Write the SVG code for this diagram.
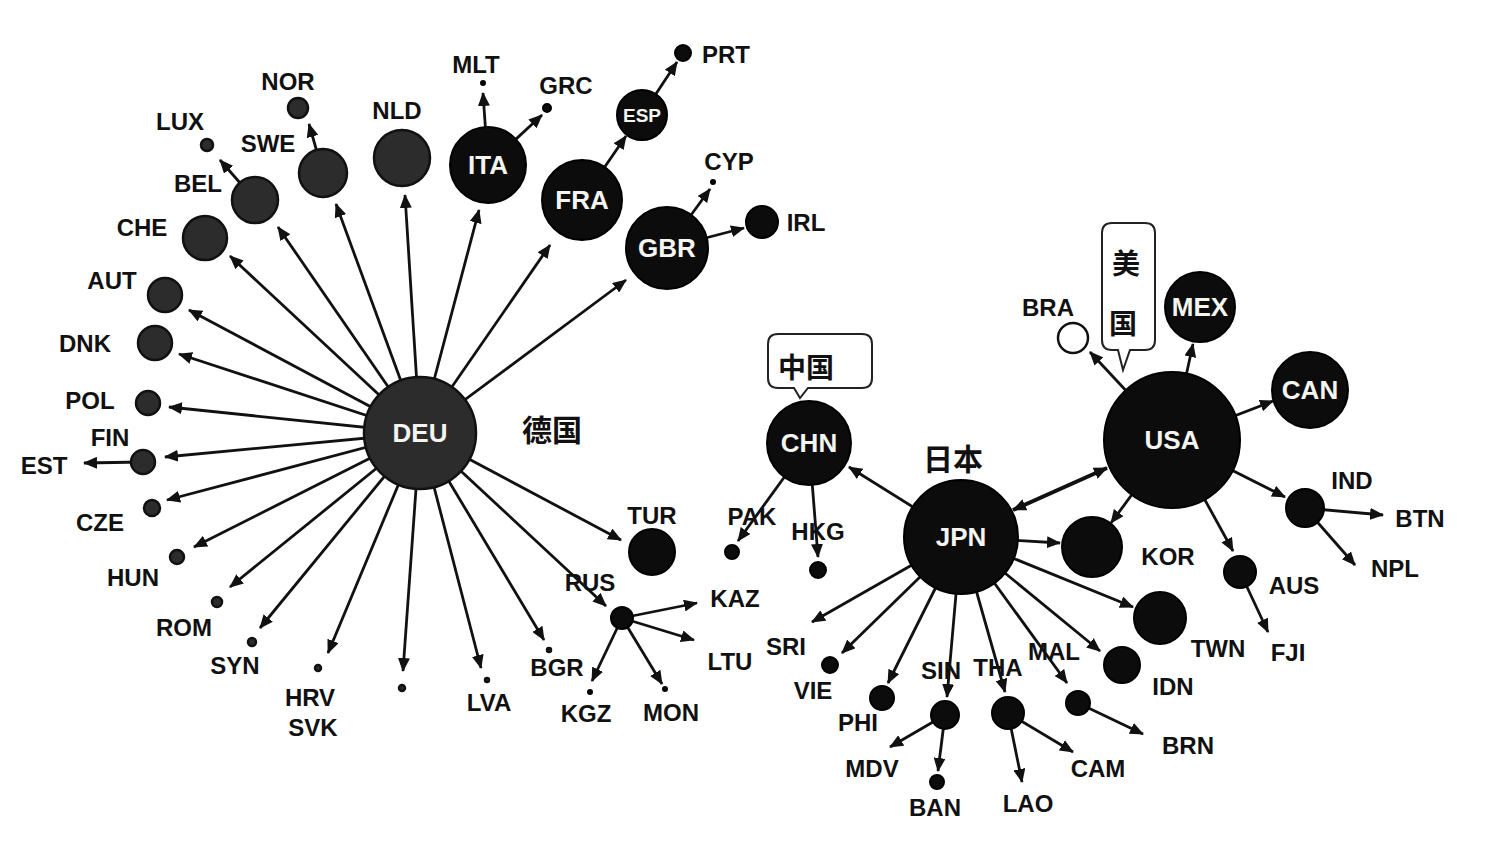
<svg xmlns="http://www.w3.org/2000/svg" width="1503" height="843" viewBox="0 0 1503 843">
<defs>
<marker id="ah" viewBox="0 0 14 12" refX="13" refY="6" markerWidth="14" markerHeight="12" markerUnits="userSpaceOnUse" orient="auto-start-reverse">
<path d="M0,0 L14,6 L0,12 Z" fill="#111"/>
</marker>
<style>
.c line{stroke:#111;stroke-width:2.8;marker-end:url(#ah)}
.c line.bi{stroke-width:4;marker-start:url(#ah)}
.g{fill:#2c2c2c;stroke:#111;stroke-width:2.5}
.b{fill:#0c0c0c;stroke:#000;stroke-width:2}
.w{fill:#fff;stroke:#111;stroke-width:2.5}
.t{font-family:"Liberation Sans",Arial,sans-serif;font-weight:bold;font-size:24px;fill:#111;text-anchor:middle;dominant-baseline:central}
.n{font-family:"Liberation Sans",Arial,sans-serif;font-weight:bold;font-size:26px;fill:#f4f4f0;text-anchor:middle;dominant-baseline:central}
.cj{font-family:"Noto Sans CJK SC","Noto Sans CJK JP",sans-serif;font-weight:bold;font-size:30px;fill:#111;text-anchor:middle;dominant-baseline:central}
.bub{fill:#fff;stroke:#222;stroke-width:2}
</style>
</defs>
<rect width="1503" height="843" fill="#fff"/>
<g id="connectors" class="c">
<line x1="420" y1="433" x2="405" y2="195"/>
<line x1="420" y1="433" x2="336" y2="204"/>
<line x1="420" y1="433" x2="278" y2="227"/>
<line x1="420" y1="433" x2="230" y2="256"/>
<line x1="420" y1="433" x2="189" y2="310"/>
<line x1="420" y1="433" x2="179" y2="354"/>
<line x1="420" y1="433" x2="169" y2="407"/>
<line x1="420" y1="433" x2="165" y2="457"/>
<line x1="420" y1="433" x2="167" y2="500"/>
<line x1="420" y1="433" x2="194" y2="547"/>
<line x1="420" y1="433" x2="230" y2="587"/>
<line x1="420" y1="433" x2="260" y2="628"/>
<line x1="420" y1="433" x2="328" y2="653"/>
<line x1="420" y1="433" x2="403" y2="671"/>
<line x1="420" y1="433" x2="481" y2="668"/>
<line x1="420" y1="433" x2="544" y2="640"/>
<line x1="420" y1="433" x2="606" y2="606"/>
<line x1="420" y1="433" x2="621" y2="540"/>
<line x1="420" y1="433" x2="626" y2="280"/>
<line x1="420" y1="433" x2="550" y2="245"/>
<line x1="420" y1="433" x2="479" y2="210"/>
<line x1="488" y1="165" x2="483" y2="93"/>
<line x1="488" y1="165" x2="542" y2="115"/>
<line x1="323" y1="173" x2="309" y2="124"/>
<line x1="255" y1="200" x2="220" y2="160"/>
<line x1="143" y1="462" x2="84" y2="463"/>
<line x1="582" y1="200" x2="626" y2="136"/>
<line x1="642" y1="115" x2="677" y2="62"/>
<line x1="667" y1="248" x2="710" y2="189"/>
<line x1="667" y1="248" x2="744" y2="228"/>
<line x1="622" y1="618" x2="697" y2="603"/>
<line x1="622" y1="618" x2="694" y2="640"/>
<line x1="622" y1="618" x2="592" y2="681"/>
<line x1="622" y1="618" x2="662" y2="684"/>
<line x1="809" y1="443" x2="738" y2="541"/>
<line x1="809" y1="443" x2="818" y2="557"/>
<line x1="961" y1="537" x2="849" y2="467"/>
<line class="bi" x1="1013" y1="510" x2="1107" y2="468"/>
<line x1="961" y1="537" x2="1060" y2="543"/>
<line x1="961" y1="537" x2="1133" y2="607"/>
<line x1="961" y1="537" x2="1100" y2="651"/>
<line x1="961" y1="537" x2="1067" y2="683"/>
<line x1="961" y1="537" x2="1005" y2="692"/>
<line x1="961" y1="537" x2="947" y2="697"/>
<line x1="961" y1="537" x2="888" y2="683"/>
<line x1="961" y1="537" x2="842" y2="653"/>
<line x1="961" y1="537" x2="812" y2="622"/>
<line x1="945" y1="715" x2="890" y2="747"/>
<line x1="945" y1="715" x2="938" y2="771"/>
<line x1="1008" y1="713" x2="1022" y2="782"/>
<line x1="1008" y1="713" x2="1073" y2="752"/>
<line x1="1078" y1="703" x2="1143" y2="734"/>
<line x1="1172" y1="440" x2="1090" y2="352"/>
<line x1="1172" y1="440" x2="1193" y2="344"/>
<line x1="1172" y1="440" x2="1273" y2="401"/>
<line x1="1172" y1="440" x2="1111" y2="523"/>
<line x1="1172" y1="440" x2="1233" y2="551"/>
<line x1="1172" y1="440" x2="1285" y2="497"/>
<line x1="1305" y1="508" x2="1383" y2="515"/>
<line x1="1305" y1="508" x2="1355" y2="565"/>
<line x1="1240" y1="572" x2="1268" y2="632"/>
</g>
<g id="DEU"><circle class="g" cx="420" cy="433" r="56"/><text class="n" x="420" y="433">DEU</text><text class="cj" x="552" y="428">德国</text></g>
<g id="ITA"><circle class="b" cx="488" cy="165" r="38"/><text class="n" x="488" y="165">ITA</text></g>
<g id="NLD"><circle class="g" cx="402" cy="158" r="28"/><text class="t" x="397" y="110">NLD</text></g>
<g id="SWE"><circle class="g" cx="323" cy="173" r="24"/><text class="t" x="268" y="143">SWE</text></g>
<g id="NOR"><circle class="g" cx="298" cy="108" r="10"/><text class="t" x="288" y="81">NOR</text></g>
<g id="LUX"><circle class="g" cx="207" cy="145" r="6"/><text class="t" x="180" y="121">LUX</text></g>
<g id="BEL"><circle class="g" cx="255" cy="200" r="23"/><text class="t" x="198" y="183">BEL</text></g>
<g id="CHE"><circle class="g" cx="205" cy="238" r="22"/><text class="t" x="142" y="227">CHE</text></g>
<g id="AUT"><circle class="g" cx="165" cy="295" r="17"/><text class="t" x="112" y="280">AUT</text></g>
<g id="DNK"><circle class="g" cx="155" cy="343" r="17"/><text class="t" x="85" y="343">DNK</text></g>
<g id="POL"><circle class="g" cx="148" cy="403" r="12"/><text class="t" x="90" y="400">POL</text></g>
<g id="FIN"><circle class="g" cx="143" cy="462" r="12"/><text class="t" x="110" y="437">FIN</text></g>
<g id="EST"><text class="t" x="44" y="465">EST</text></g>
<g id="CZE"><circle class="g" cx="152" cy="508" r="8"/><text class="t" x="100" y="522">CZE</text></g>
<g id="HUN"><circle class="g" cx="177" cy="557" r="7"/><text class="t" x="133" y="577">HUN</text></g>
<g id="ROM"><circle class="g" cx="217" cy="602" r="5"/><text class="t" x="184" y="627">ROM</text></g>
<g id="SYN"><circle class="g" cx="252" cy="642" r="4"/><text class="t" x="235" y="665">SYN</text></g>
<g id="HRV"><circle class="g" cx="318" cy="668" r="3"/><text class="t" x="310" y="697">HRV</text><text class="t" x="313" y="727">SVK</text></g>
<g id="unnamed"><circle class="g" cx="402" cy="688" r="3"/></g>
<g id="LVA"><circle class="g" cx="487" cy="680" r="2"/><text class="t" x="489" y="702">LVA</text></g>
<g id="BGR"><circle class="g" cx="549" cy="650" r="2"/><text class="t" x="557" y="667">BGR</text></g>
<g id="TUR"><circle class="b" cx="652" cy="552" r="23"/><text class="t" x="652" y="515">TUR</text></g>
<g id="RUS"><circle class="b" cx="622" cy="618" r="11"/><text class="t" x="590" y="582">RUS</text></g>
<g id="KAZ"><text class="t" x="735" y="598">KAZ</text></g>
<g id="LTU"><text class="t" x="730" y="661">LTU</text></g>
<g id="KGZ"><circle class="b" cx="590" cy="692" r="2"/><text class="t" x="586" y="713">KGZ</text></g>
<g id="MON"><circle class="b" cx="665" cy="689" r="2"/><text class="t" x="671" y="712">MON</text></g>
<g id="FRA"><circle class="b" cx="582" cy="200" r="40"/><text class="n" x="582" y="200">FRA</text></g>
<g id="GBR"><circle class="b" cx="667" cy="248" r="41"/><text class="n" x="667" y="248">GBR</text></g>
<g id="ESP"><circle class="b" cx="642" cy="115" r="25"/><text class="n" x="642" y="115" style="font-size:19px">ESP</text></g>
<g id="PRT"><circle class="b" cx="683" cy="53" r="8"/><text class="t" x="726" y="54">PRT</text></g>
<g id="GRC"><circle class="b" cx="547" cy="108" r="4"/><text class="t" x="566" y="85">GRC</text></g>
<g id="MLT"><circle class="b" cx="483" cy="83" r="2"/><text class="t" x="476" y="64">MLT</text></g>
<g id="CYP"><circle class="b" cx="713" cy="182" r="2"/><text class="t" x="729" y="161">CYP</text></g>
<g id="IRL"><circle class="b" cx="762" cy="222" r="16"/><text class="t" x="806" y="222">IRL</text></g>
<g id="CHN"><path class="bub" d="M778,334 H862 Q872,334 872,344 V378 Q872,388 862,388 H808 L800,398 L794,388 H778 Q768,388 768,378 V344 Q768,334 778,334 Z"/><text class="cj" x="806" y="366" style="font-size:28px">中国</text><circle class="b" cx="809" cy="443" r="42"/><text class="n" x="809" y="443">CHN</text></g>
<g id="PAK"><circle class="b" cx="732" cy="552" r="7"/><text class="t" x="752" y="516">PAK</text></g>
<g id="HKG"><circle class="b" cx="818" cy="570" r="8"/><text class="t" x="818" y="531">HKG</text></g>
<g id="JPN"><circle class="b" cx="961" cy="537" r="57"/><text class="n" x="961" y="537">JPN</text><text class="cj" x="953" y="457">日本</text></g>
<g id="USA"><circle class="b" cx="1172" cy="440" r="68"/><text class="n" x="1172" y="440">USA</text></g>
<g id="MEX"><circle class="b" cx="1200" cy="307" r="35"/><text class="n" x="1200" y="307">MEX</text></g>
<g id="CAN"><circle class="b" cx="1310" cy="390" r="38"/><text class="n" x="1310" y="390">CAN</text></g>
<g id="BRA"><circle class="w" cx="1073" cy="338" r="15"/><text class="t" x="1048" y="307">BRA</text></g>
<g id="USA-label"><path class="bub" d="M1112,223 H1145 Q1155,223 1155,233 V340 Q1155,350 1145,350 H1130 L1123,370 L1118,350 H1112 Q1102,350 1102,340 V233 Q1102,223 1112,223 Z"/><text class="cj" x="1126" y="262" style="font-size:28px">美</text><text class="cj" x="1123" y="322" style="font-size:28px">国</text></g>
<g id="KOR"><circle class="b" cx="1092" cy="547" r="30"/><text class="t" x="1168" y="556">KOR</text></g>
<g id="TWN"><circle class="b" cx="1160" cy="618" r="26"/><text class="t" x="1218" y="648">TWN</text></g>
<g id="IDN"><circle class="b" cx="1122" cy="665" r="18"/><text class="t" x="1173" y="686">IDN</text></g>
<g id="MAL"><circle class="b" cx="1078" cy="703" r="12"/><text class="t" x="1054" y="651">MAL</text></g>
<g id="BRN"><text class="t" x="1188" y="745">BRN</text></g>
<g id="THA"><circle class="b" cx="1008" cy="713" r="16"/><text class="t" x="998" y="667">THA</text></g>
<g id="SIN"><circle class="b" cx="945" cy="715" r="14"/><text class="t" x="941" y="670">SIN</text></g>
<g id="PHI"><circle class="b" cx="882" cy="698" r="12"/><text class="t" x="858" y="722">PHI</text></g>
<g id="VIE"><circle class="b" cx="830" cy="665" r="8"/><text class="t" x="813" y="690">VIE</text></g>
<g id="SRI"><text class="t" x="786" y="646">SRI</text></g>
<g id="MDV"><text class="t" x="872" y="768">MDV</text></g>
<g id="BAN"><circle class="b" cx="937" cy="782" r="7"/><text class="t" x="935" y="807">BAN</text></g>
<g id="LAO"><text class="t" x="1028" y="803">LAO</text></g>
<g id="CAM"><text class="t" x="1098" y="768">CAM</text></g>
<g id="AUS"><circle class="b" cx="1240" cy="572" r="16"/><text class="t" x="1294" y="585">AUS</text></g>
<g id="FJI"><text class="t" x="1288" y="652">FJI</text></g>
<g id="IND"><circle class="b" cx="1305" cy="508" r="19"/><text class="t" x="1352" y="480">IND</text></g>
<g id="BTN"><text class="t" x="1420" y="518">BTN</text></g>
<g id="NPL"><text class="t" x="1395" y="568">NPL</text></g>
</svg>
